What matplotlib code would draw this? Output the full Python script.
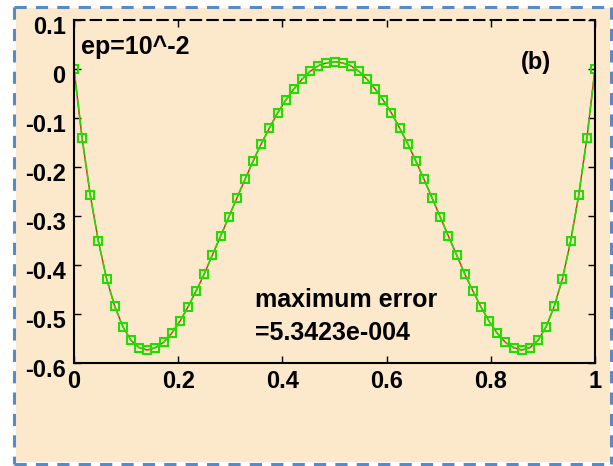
import matplotlib.pyplot as plt
from matplotlib.patches import Rectangle
from matplotlib.lines import Line2D
from matplotlib.transforms import ScaledTranslation
import numpy as np

plt.rcParams['font.family'] = ['Liberation Sans', 'DejaVu Sans']
plt.rcParams['font.weight'] = 'bold'

# grid points on [0,1]
x = np.linspace(0, 1, 65)

# left half of the solution (x <= 0.5); the curve is symmetric about 0.5
half = [0.0, -0.1416, -0.2575, -0.3520, -0.4276, -0.4843, -0.5258, -0.5538,
        -0.5687, -0.5736, -0.5687, -0.5579, -0.5395, -0.5150, -0.4857, -0.4530,
        -0.4183, -0.3795, -0.3413, -0.3025, -0.2636, -0.2254, -0.1880, -0.1527,
        -0.1206, -0.0899, -0.0640, -0.0409, -0.0211, -0.0047, 0.0067, 0.0123,
        0.0149]
exact = half + half[-2::-1]
approx = list(exact)

xticks = [0, 0.2, 0.4, 0.6, 0.8, 1]
yticks = [-0.6, -0.5, -0.4, -0.3, -0.2, -0.1, 0, 0.1]

bg = '#FCE8CB'
fig = plt.figure(figsize=(6.13, 4.66), dpi=100, facecolor='white')

# beige panel with dashed blue frame
W, H = 613, 466
fig.patches.append(Rectangle((16 / W, 1 - 462 / H), 594 / W, 454 / H,
                             transform=fig.transFigure, facecolor=bg,
                             edgecolor='none', zorder=-2))
frame = dict(color='#5A8AC6', lw=2.2, ls=(0, (4, 3)), transform=fig.transFigure,
             zorder=-1)
for xs, ys in [((14, 611), (7, 7)), ((14, 611), (464, 464)),
               ((14, 14), (7, 464)), ((611, 611), (7, 464))]:
    fig.lines.append(Line2D([v / W for v in xs], [1 - v / H for v in ys], **frame))

ax = fig.add_axes([74 / W, 1 - 363 / H, 521 / W, 343 / H])
ax.set_facecolor(bg)

ax.plot(x, exact, '-', color='#E8201A', lw=1.0, marker='s', ms=5.2,
        mfc='none', mec='#E8201A', mew=1.2)
ax.plot(x, approx, '--', color='#22DD00', lw=1.2, dashes=(7, 2), marker='s',
        ms=5.2, mfc='none', mec='#22DD00', mew=1.5)

ax.set_xlim(0, 1)
ax.set_ylim(-0.6, 0.1)
ax.set_xticks(xticks)
ax.set_xticklabels(['0', '0.2', '0.4', '0.6', '0.8', '1'])
ax.set_yticks(yticks)
ax.set_yticklabels(['-0.6', '-0.5', '-0.4', '-0.3', '-0.2', '-0.1', '0', '0.1'])
ax.tick_params(direction='in', length=5, width=1, top=True, right=True,
               labelsize=17)
ax.tick_params(axis='x', pad=5)
ax.tick_params(axis='y', pad=6)
shift = ScaledTranslation(0, -5 / 100, fig.dpi_scale_trans)
for lab in ax.get_yticklabels():
    lab.set_transform(lab.get_transform() + shift)
for lab in ax.get_xticklabels() + ax.get_yticklabels():
    lab.set_fontweight('bold')

for side in ['left', 'right', 'bottom']:
    ax.spines[side].set_linewidth(1.5)
ax.spines['top'].set_linewidth(1.5)
ax.spines['top'].set_linestyle((0, (5, 3)))

ax.text(0.013, 0.045, 'ep=10^-2', fontsize=18, fontweight='bold', va='center')
ax.text(0.857, 0.013, '(b)', fontsize=17, fontweight='bold', va='center')
ax.text(0.347, -0.471, 'maximum error', fontsize=18, fontweight='bold', va='center')
ax.text(0.347, -0.539, '=5.3423e-004', fontsize=18, fontweight='bold', va='center')

fig.savefig('out.png', dpi=100, facecolor='white')
